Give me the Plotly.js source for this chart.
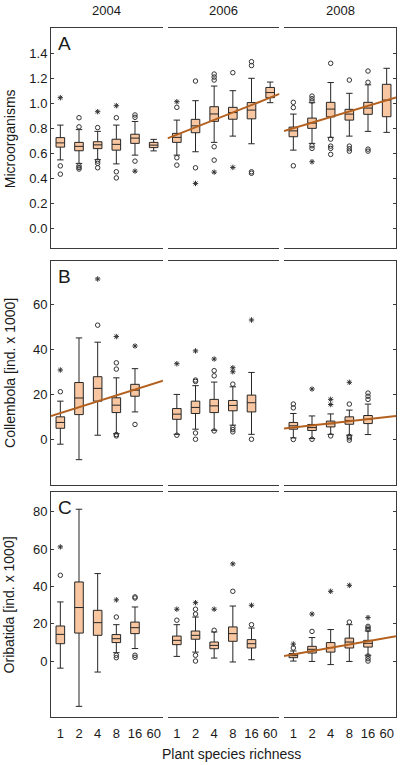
<!DOCTYPE html>
<html><head><meta charset="utf-8">
<script src="https://cdn.plot.ly/plotly-3.0.1.min.js"></script>
<style>html,body{margin:0;padding:0;background:#fff}#chart{width:400px;height:765px}</style>
</head><body><div id="chart"></div>
<script>
const categories = ['1','2','4','8','16','60'];
const years = ['2004','2006','2008'];
const panelLetters = ['A','B','C'];
const panelTitles = ['Microorganisms','Collembola [ind. x 1000]','Oribatida [ind. x 1000]'];
const xTitle = 'Plant species richness';

// ---- A: Microorganisms, per year [2004, 2006, 2008], per category ----
const microLow = [[0.548,0.52,0.55,0.516,0.586,0.62],[0.586,0.613,0.688,0.738,0.677,1.005],[0.626,0.68,0.728,0.738,0.776,0.768]];
const microQ1  = [[0.650,0.621,0.638,0.626,0.680,0.646],[0.688,0.765,0.856,0.873,0.876,1.045],[0.733,0.800,0.892,0.866,0.912,0.893]];
const microMed = [[0.684,0.656,0.668,0.672,0.722,0.666],[0.728,0.820,0.915,0.926,0.946,1.086],[0.780,0.842,0.954,0.914,0.962,1.026]];
const microQ3  = [[0.726,0.688,0.693,0.713,0.753,0.688],[0.760,0.872,0.973,0.968,1.006,1.127],[0.810,0.882,1.008,0.952,1.008,1.152]];
const microHigh= [[0.826,0.790,0.776,0.826,0.855,0.712],[0.866,1.021,1.138,1.101,1.200,1.170],[0.914,1.005,1.166,1.080,1.148,1.280]];
const microCircles = [
  [[0.50,0.434],[0.885,0.812,0.50,0.487,0.475],[0.806,0.538,0.52,0.485],[0.885,0.453,0.404],[0.907,0.888,0.538],[]],
  [[0.968,0.565,0.506],[1.178,0.485],[1.234,1.21,1.186,0.653,0.546],[1.245],[1.333,1.302,0.453,0.441],[]],
  [[1.008,0.966,0.501],[1.058,1.037,1.018,0.661,0.640],[1.32,0.714,0.658,0.640,0.592],[1.186,0.658,0.637,0.618],[1.258,1.168,0.634,0.618],[]]
];
const microStars = [
  [[1.045],[],[0.933],[0.981],[0.458],[]],
  [[1.013],[0.36],[0.45],[0.488],[],[]],
  [[],[0.533],[],[],[],[]]
];
const microTrend = [null,[0.72,1.075],[0.778,1.046]];

// ---- B: Collembola ----
const collLow  = [[-2.2,-9.1,1.8,2.5,12.2],[2.2,4.5,4.0,6.3,2.2],[0.6,0.3,2.2,1.8,2.1]];
const collQ1   = [[4.9,11.0,17.0,11.9,19.2],[8.9,11.5,11.9,12.7,12.2],[4.5,3.9,5.5,6.7,7.0]];
const collMed  = [[7.5,18.4,22.7,15.2,21.9],[11.2,14.2,14.9,15.1,16.3],[6.0,5.2,6.9,8.4,8.9]];
const collQ3   = [[10.0,25.3,27.9,18.5,24.5],[13.7,17.0,17.8,17.3,19.7],[7.5,6.6,8.1,10.0,10.6]];
const collHigh = [[17.0,45.2,43.3,27.4,31.5],[20.0,23.9,25.5,23.4,29.8],[11.5,10.4,11.3,13.0,15.7]];
const collCircles = [
  [[21.2],[],[50.9],[34.1,31.3,2.1,1.5],[6.6]],
  [[1.8],[26.4,25.8,2.8,0],[30.6,28.3,3.7],[24.6,5.2,4.3,3.3],[0]],
  [[15.7,14.0,-0.1],[0],[1.5],[15.7,1.3,0.6,-0.4],[20.6,19.2,17.8]]
];
const collStars = [
  [[30.9],[],[71.5],[45.8],[41.6]],
  [[33.7],[39.4],[35.8],[31.9,30.1],[53.2]],
  [[],[22.4],[17.8,15.5],[25.4],[]]
];
const collTrend = [[10.4,26.1],null,[4.8,10.4]];

// ---- C: Oribatida ----
const oribLow  = [[-3.8,-24.3,-5.9,4.5,6.7],[2.5,4.8,1.6,-0.5,0.7],[0,-0.2,-1.9,-0.2,3.1]];
const oribQ1   = [[9.3,15.0,13.8,9.9,14.7],[8.8,11.7,6.6,10.6,7.0],[1.8,4.3,4.8,7.0,7.5]];
const oribMed  = [[14.3,28.7,20.6,12.0,17.9],[11.1,13.8,8.4,14.7,9.3],[2.9,6.3,7.2,10.2,9.5]];
const oribQ3   = [[18.8,42.4,27.2,14.2,20.9],[13.4,16.1,10.2,18.3,11.5],[4.0,7.9,9.9,12.3,11.1]];
const oribHigh = [[31.7,81.4,46.9,19.5,29.0],[19.5,23.6,15.6,29.5,17.7],[5.4,12.6,16.9,19.5,16.1]];
const oribCircles = [
  [[46.0],[],[],[23.6,3.1,1.8],[34.4,33.8,3.1,2.0]],
  [[21.9],[27.8,25.2,3.1,0],[16.5],[37.4],[19.5]],
  [[7.0],[15.9],[],[20.9],[18.6,17.7,16.9,2.7,1.3,0]]
];
const oribStars = [
  [[61.2],[],[],[32.8],[]],
  [[27.8],[31.3],[27.8],[52.1],[29.9]],
  [[9.1],[25.2],[37.4],[40.6],[23.3]]
];
const oribTrend = [null,null,[2.7,13.3]];

const microTicks = [0,0.2,0.4,0.6,0.8,1.0,1.2,1.4];
const collTicks = [0,20,40,60];
const oribTicks = [0,20,40,60,80];

// ---------- build ----------
const FONT = 'Arial, "Liberation Sans", sans-serif';
const TXT = '#1a1a1a';
const FRAME = '#3a3a3a';
const BOXFILL = '#f8c6a0';
const BOXLINE = '#262626';
const TREND = '#b4611f';

const panels = [
  {low:microLow,q1:microQ1,med:microMed,q3:microQ3,high:microHigh,circ:microCircles,star:microStars,trend:microTrend,ticks:microTicks,range:[-0.16,1.602],fmt:'.1f'},
  {low:collLow,q1:collQ1,med:collMed,q3:collQ3,high:collHigh,circ:collCircles,star:collStars,trend:collTrend,ticks:collTicks,range:[-20.5,79.6],fmt:''},
  {low:oribLow,q1:oribQ1,med:oribMed,q3:oribQ3,high:oribHigh,circ:oribCircles,star:oribStars,trend:oribTrend,ticks:oribTicks,range:[-30,90.7],fmt:''}
];

const xDomains = [[0,0.3246],[0.3377,0.6623],[0.6754,1]];
const yDomains = [[0.680,1],[0.3364,0.6621],[0,0.3267]];

const traces = [];
const layout = {
  width:400, height:765,
  margin:{l:51,r:4,t:28,b:48},
  paper_bgcolor:'#fff', plot_bgcolor:'rgba(0,0,0,0)',
  showlegend:false, boxmode:'overlay',
  font:{family:FONT,size:13,color:TXT},
  annotations:[]
};

function axName(prefix, n){ return n===1 ? prefix : prefix+n; }

panels.forEach((p, r) => {
  const yN = r+1;
  const yId = axName('y', yN);
  layout[axName('yaxis', yN)] = {
    domain:yDomains[r], range:p.range, anchor:axName('x', r*3+1),
    tickvals:p.ticks, tickformat:p.fmt, ticks:'inside', ticklen:3, tickcolor:FRAME,
    showline:true, linecolor:FRAME, linewidth:1, showgrid:false, zeroline:false,
    tickfont:{family:FONT,size:13,color:TXT}, fixedrange:true
  };
  // right edge axis
  const rN = r+4;
  layout[axName('yaxis', rN)] = {
    overlaying:yId, anchor:axName('x', r*3+3), side:'right', range:p.range,
    tickvals:p.ticks, ticks:'inside', ticklen:3, tickcolor:FRAME, showticklabels:false,
    showline:true, linecolor:FRAME, linewidth:1, showgrid:false, zeroline:false
  };
  traces.push({type:'scatter', x:[], y:[], xaxis:axName('x', r*3+3), yaxis:axName('y', rN), hoverinfo:'skip'});

  years.forEach((yr, b) => {
    const xN = r*3+b+1;
    const xId = axName('x', xN);
    layout[axName('xaxis', xN)] = {
      domain:xDomains[b], range:[-0.5,5.5], anchor:yId,
      tickvals:categories.map((c,i)=>i), ticktext:categories,
      showticklabels:r===2, ticks:'', ticklabelstandoff:4,
      showline:true, mirror:true, linecolor:FRAME, linewidth:1,
      showgrid:false, zeroline:false, tickfont:{family:FONT,size:13,color:TXT}, fixedrange:true
    };
    const n = p.med[b].length;
    const idx = p.med[b].map((v,i)=>i);
    traces.push({
      type:'box', xaxis:xId, yaxis:yId, x:idx,
      q1:p.q1[b], median:p.med[b], q3:p.q3[b], lowerfence:p.low[b], upperfence:p.high[b],
      boxpoints:false, width:0.46, whiskerwidth:0.75,
      fillcolor:BOXFILL, line:{color:BOXLINE,width:1}, hoverinfo:'skip'
    });
    // outliers
    const cx=[], cy=[], sx=[], sy=[];
    p.circ[b].forEach((arr,i)=>arr.forEach(v=>{cx.push(i);cy.push(v);}));
    p.star[b].forEach((arr,i)=>arr.forEach(v=>{sx.push(i);sy.push(v);}));
    traces.push({type:'scatter',mode:'markers',xaxis:xId,yaxis:yId,x:cx,y:cy,
      marker:{symbol:'circle-open',size:4.5,color:'#333',line:{width:1,color:'#333'}},hoverinfo:'skip'});
    traces.push({type:'scatter',mode:'markers',xaxis:xId,yaxis:yId,x:sx,y:sy,
      marker:{symbol:'asterisk-open',size:4.5,color:'#333',line:{width:1,color:'#333'}},hoverinfo:'skip'});
    if (p.trend[b]) {
      traces.push({type:'scatter',mode:'lines',xaxis:xId,yaxis:yId,x:[-0.5,5.5],y:p.trend[b],
        line:{color:TREND,width:2},hoverinfo:'skip',cliponaxis:false});
    }
    if (r===0) {
      layout.annotations.push({text:yr, xref:'paper', yref:'paper',
        x:(xDomains[b][0]+xDomains[b][1])/2, y:1.026, xanchor:'center', yanchor:'middle',
        showarrow:false, font:{family:FONT,size:13,color:TXT}});
    }
  });

  // panel letter
  layout.annotations.push({text:panelLetters[r], xref:'paper', yref:'paper',
    x:0.014, y:yDomains[r][1]-0.0225, xanchor:'left', yanchor:'middle',
    showarrow:false, font:{family:FONT,size:19,color:TXT}});
  // y title
  layout.annotations.push({text:panelTitles[r], xref:'paper', yref:'paper',
    x:-0.119, y:(yDomains[r][0]+yDomains[r][1])/2, xanchor:'center', yanchor:'middle',
    textangle:-90, showarrow:false, font:{family:FONT,size:14,color:TXT}});
});

layout.annotations.push({text:xTitle, xref:'paper', yref:'paper',
  x:0.524, y:-0.054, xanchor:'center', yanchor:'middle', showarrow:false,
  font:{family:FONT,size:14,color:TXT}});

Plotly.newPlot('chart', traces, layout, {displayModeBar:false, staticPlot:true});
</script>
</body></html>
